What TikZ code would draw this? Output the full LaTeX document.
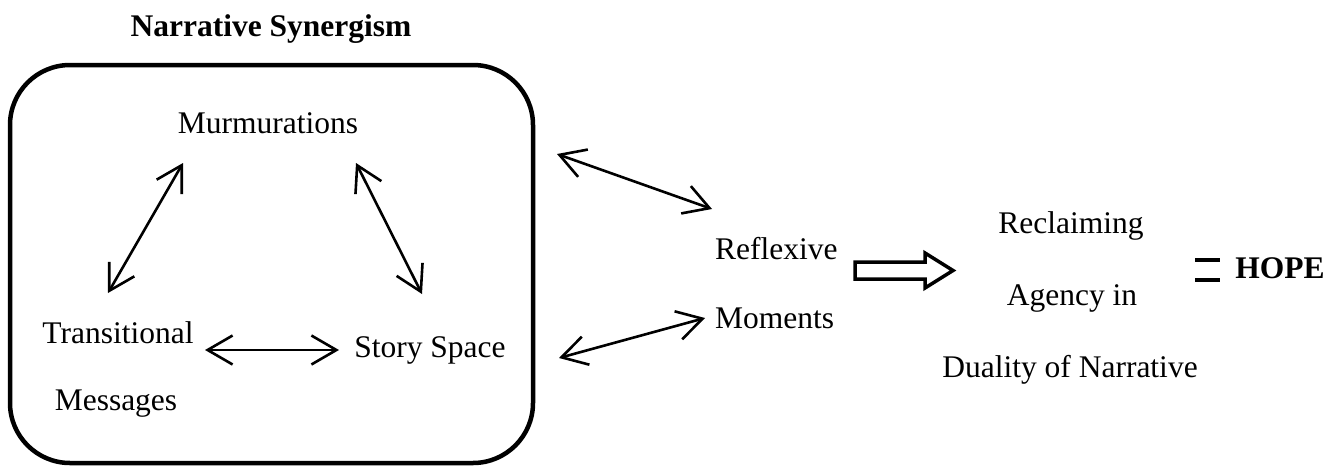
\documentclass[tikz,border=0pt]{standalone}
\usepackage{fontspec}
\setmainfont{Liberation Serif}
\usetikzlibrary{arrows.meta}
\begin{document}
\begin{tikzpicture}[x=1pt,y=-1pt,
  lbl/.style={font=\fontsize{31.5}{36}\selectfont, inner sep=0pt, anchor=base},
  blbl/.style={font=\fontsize{31.5}{36}\selectfont\bfseries, inner sep=0pt, anchor=base},
  dbl/.style={line width=2.6pt, {Straight Barb[length=25pt,width=29pt,line width=2.6pt]}-{Straight Barb[length=25pt,width=29pt,line width=2.6pt]}},
  frame/.style={line width=4.5pt, rounded corners=60pt}]
\useasboundingbox (0,0) rectangle (1342,466);
% title and frame
\node[blbl] (title) at (271,36) {Narrative Synergism};
\draw[frame] (10,65) rectangle (533,463);
% nodes inside
\node[lbl] (murm) at (268,133) {Murmurations};
\node[lbl] (trans) at (118,343) {Transitional};
\node[lbl] (mess) at (116,410) {Messages};
\node[lbl] (story) at (430,357) {Story Space};
% nodes outside
\node[lbl, anchor=base west] (refl) at (715,259) {Reflexive};
\node[lbl, anchor=base west] (mom) at (715,328) {Moments};
\node[lbl] (recl) at (1071,233) {Reclaiming};
\node[lbl] (agency) at (1072,305) {Agency in};
\node[lbl] (duality) at (1070,377) {Duality of Narrative};
\node[blbl] (hope) at (1280,278) {HOPE};
% connector ends
\coordinate (m1) at (183,163);
\coordinate (t1) at (108,293);
\coordinate (m2) at (356,163);
\coordinate (s1) at (422,294);
\coordinate (t2) at (205,350);
\coordinate (s2) at (339,350);
\coordinate (b1) at (557,154);
\coordinate (r1) at (712,209);
\coordinate (b2) at (559,358);
\coordinate (r2) at (705,318);
\draw[dbl] (m1) -- (t1);
\draw[dbl] (m2) -- (s1);
\draw[dbl] (t2) -- (s2);
\draw[dbl] (b1) -- (r1);
\draw[dbl] (b2) -- (r2);
% block arrow
\draw[line width=3.5pt, line join=miter] (855,262) -- (925,262) -- (925,253) -- (953,270.5) -- (925,288) -- (925,279) -- (855,279) -- cycle;
% equals sign
\draw[line width=4pt] (1195,260) -- (1220,260);
\draw[line width=4pt] (1195,280) -- (1220,280);
\end{tikzpicture}
\end{document}
